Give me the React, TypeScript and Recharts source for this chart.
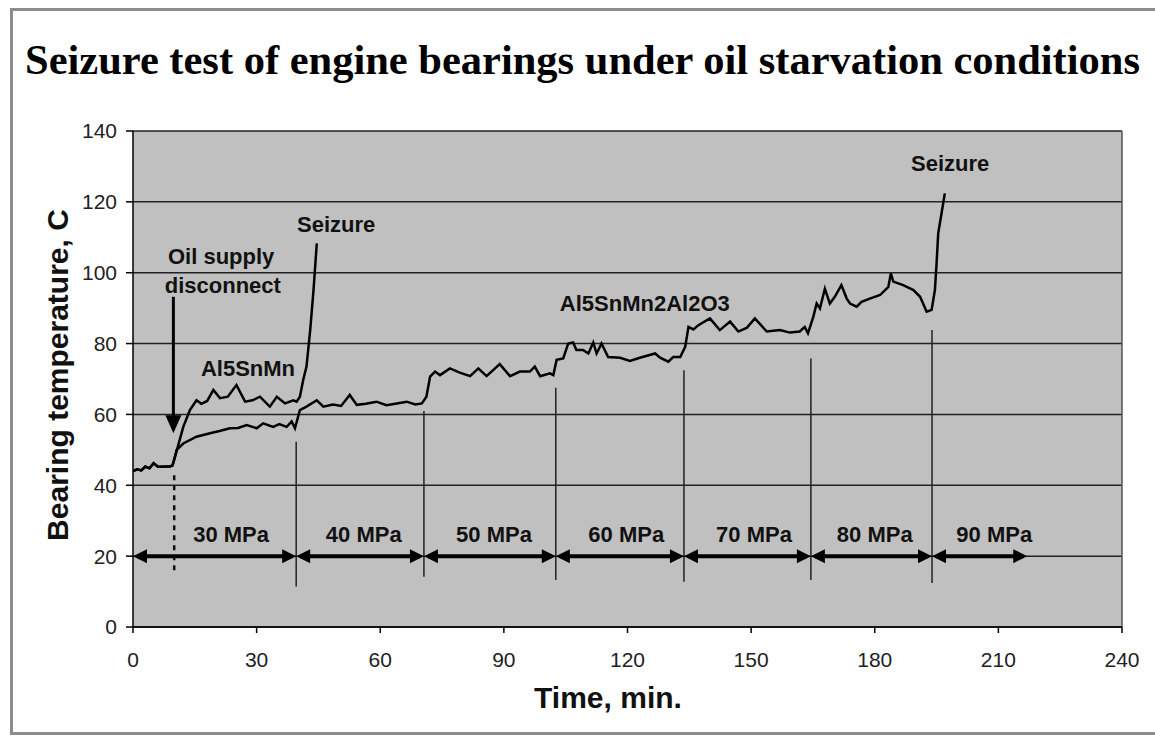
import React from "react";
import {
  LineChart,
  Line,
  XAxis,
  YAxis,
  CartesianGrid,
  ReferenceLine,
  ReferenceDot,
} from "recharts";

// Al5SnMn trace (min, deg C)
const snMnTime = [0, 1, 2, 3, 4, 5, 6, 7, 8, 9, 9.6, 10.2, 12.2, 13.8, 15.4, 16.6, 18, 19.5, 21.1, 23, 25.1, 27.2, 29, 30.8, 33.2, 34.9, 36.9, 38.9, 39.7, 40.5, 41.3, 42.1, 43, 43.8, 44.6];
const snMnTemp = [44, 44.5, 44.2, 45.3, 44.8, 46.2, 45.3, 45.2, 45.3, 45.3, 45.6, 48, 56.5, 61.2, 64, 63, 63.8, 66.9, 64.6, 65, 68.3, 63.6, 64, 65, 62.2, 65, 63.1, 64, 63.6, 65, 69.7, 73.5, 83.8, 95, 108.3];

// Al5SnMn2Al2O3 trace
const alOxTime = [0, 1, 2, 3, 4, 5, 6, 7, 8, 9, 9.6, 10.6, 12.2, 15.4, 18.7, 21, 23.5, 25.5, 27.6, 30, 31.6, 34, 35.5, 37.3, 38.5, 39.3, 40.5, 42.1, 44.6, 46.2, 48.5, 50.5, 52.6, 54.3, 56.5, 59.1, 61.5, 64, 66.4, 68.5, 70.1, 71.2, 72.1, 73.3, 74.5, 76.9, 79.3, 81.8, 83.8, 85.8, 89, 91.5, 93.9, 96.3, 97.5, 98.8, 101.2, 102, 102.8, 104.4, 105.6, 106.8, 107.6, 109.2, 110.5, 111.7, 112.5, 113.7, 115.3, 118.2, 120.6, 123, 126.7, 127.9, 129.9, 131.1, 132.8, 134, 134.8, 136, 137.2, 140, 142.4, 144.9, 146.9, 149, 150.9, 153.8, 157, 159.4, 161.8, 163, 163.8, 165.1, 165.9, 166.7, 167.9, 169.1, 170.3, 171.9, 173.2, 174, 175.6, 176.8, 178.8, 181.3, 183.3, 183.9, 184.5, 186.9, 189.4, 191, 192.6, 193.8, 194.6, 195, 195.4, 196.2, 197];
const alOxTemp = [44, 44.5, 44.2, 45.3, 44.8, 46.2, 45.3, 45.2, 45.3, 45.3, 45.6, 50, 51.8, 53.7, 54.7, 55.3, 56.1, 56.2, 57, 56.1, 57.5, 56.5, 57.3, 56.5, 58, 56.1, 61.2, 62.2, 64, 62.2, 62.8, 62.4, 65.5, 62.7, 63, 63.6, 62.6, 63.1, 63.6, 62.8, 63.1, 65, 70.7, 72.1, 71.1, 73, 71.8, 70.8, 73, 70.8, 74.2, 70.8, 72.1, 72.1, 73.5, 70.8, 71.6, 71.1, 75.4, 75.8, 80, 80.3, 78.2, 78.2, 77.2, 80.3, 77.2, 80, 76.2, 76, 75.1, 76, 77.2, 76, 74.9, 76.2, 76.2, 79.1, 84.7, 84, 85.2, 87.1, 83.8, 86.2, 83.4, 84.5, 87.1, 83.4, 83.8, 83.1, 83.4, 84.7, 82.9, 87.6, 91.3, 89.9, 95.5, 91.3, 93.2, 96.5, 92.7, 91.3, 90.4, 91.8, 92.7, 93.7, 96, 99.8, 97.5, 96.5, 95.1, 93.2, 89, 89.5, 95.1, 102.6, 111.1, 116.7, 122.4];

const snMnData = snMnTime.map((t, i) => ({ t, v: snMnTemp[i] }));
const alOxData = alOxTime.map((t, i) => ({ t, v: alOxTemp[i] }));

// load steps
const stepBounds = [0, 39.6, 70.6, 102.6, 133.7, 164.5, 193.9, 217];
const stepLabels = ["30 MPa", "40 MPa", "50 MPa", "60 MPa", "70 MPa", "80 MPa", "90 MPa"];
const stepLabelX = [23.8, 56, 87.6, 119.7, 150.7, 180, 209];
const dividerTop = [52.3, 61, 67.5, 72.5, 75.8, 83.8];
const dividerBottom = [11.4, 14.2, 13.3, 12.8, 13.3, 12.4];

const xTicks = [0, 30, 60, 90, 120, 150, 180, 210, 240];
const yTicks = [0, 20, 40, 60, 80, 100, 120, 140];

const SANS = "'Liberation Sans', Arial, sans-serif";

const textAt = (txt: string) => (p: any) => (
  <text
    x={p.cx}
    y={p.cy}
    textAnchor="middle"
    dominantBaseline="central"
    fontFamily={SANS}
    fontWeight="bold"
    fontSize={22}
    fill="#111"
  >
    {txt}
  </text>
);

const doubleArrow = (p: any) => {
  const { x1, y1, x2 } = p;
  const a = 14;
  const h = 7;
  return (
    <g>
      <line x1={x1 + 4} y1={y1} x2={x2 - 4} y2={y1} stroke="#000" strokeWidth={4} />
      <polygon points={`${x1},${y1} ${x1 + a},${y1 - h} ${x1 + a},${y1 + h}`} fill="#000" />
      <polygon points={`${x2},${y1} ${x2 - a},${y1 - h} ${x2 - a},${y1 + h}`} fill="#000" />
    </g>
  );
};

const downArrow = (p: any) => {
  const { x1, y1, y2 } = p;
  return (
    <g>
      <line x1={x1} y1={y1} x2={x1} y2={y2 - 10} stroke="#000" strokeWidth={3} />
      <polygon points={`${x1},${y2} ${x1 - 8},${y2 - 18} ${x1 + 8},${y2 - 18}`} fill="#000" />
    </g>
  );
};

export default function App() {
  return (
    <div
      style={{
        position: "absolute",
        left: 0,
        top: 0,
        width: 1155,
        height: 736,
        background: "#fff",
        overflow: "hidden",
      }}
    >
      <div
        style={{
          position: "absolute",
          left: 10,
          top: 8,
          width: 1160,
          height: 721,
          border: "3px solid #8c8c8c",
        }}
      />
      <div style={{ position: "absolute", left: 0, top: 0 }}>
        <LineChart
          width={1155}
          height={736}
          margin={{ top: 131, right: 33, bottom: 59, left: 73 }}
        >
          <CartesianGrid
            horizontal
            vertical={false}
            stroke="#222"
            strokeWidth={1.5}
            fill="#c0c0c0"
            fillOpacity={1}
          />
          <XAxis
            type="number"
            dataKey="t"
            domain={[0, 240]}
            ticks={xTicks}
            height={50}
            tickSize={6}
            tickMargin={19}
            stroke="#000"
            strokeWidth={1.5}
            tick={{ fontFamily: SANS, fontSize: 21, fill: "#222" }}
            allowDataOverflow
          />
          <YAxis
            type="number"
            domain={[0, 140]}
            ticks={yTicks}
            width={60}
            tickSize={7}
            tickMargin={9}
            stroke="#000"
            strokeWidth={1.5}
            tick={{ fontFamily: SANS, fontSize: 21, fill: "#222" }}
          />
          <ReferenceLine x={240} stroke="#555" strokeWidth={1.5} />
          {dividerTop.map((top, i) => (
            <ReferenceLine
              key={"d" + i}
              segment={[
                { x: stepBounds[i + 1], y: dividerBottom[i] },
                { x: stepBounds[i + 1], y: top },
              ]}
              stroke="#222"
              strokeWidth={1.5}
            />
          ))}
          <ReferenceLine
            segment={[
              { x: 10, y: 16 },
              { x: 10, y: 42.9 },
            ]}
            stroke="#111"
            strokeWidth={2.5}
            strokeDasharray="5 5"
          />
          {stepLabels.map((lab, i) => (
            <ReferenceLine
              key={"a" + i}
              segment={[
                { x: stepBounds[i], y: 20 },
                { x: stepBounds[i + 1], y: 20 },
              ]}
              shape={doubleArrow}
            />
          ))}
          {stepLabels.map((lab, i) => (
            <ReferenceDot key={"l" + i} x={stepLabelX[i]} y={26} shape={textAt(lab)} />
          ))}
          <ReferenceLine
            segment={[
              { x: 9.8, y: 93.2 },
              { x: 9.8, y: 54.7 },
            ]}
            shape={downArrow}
          />
          <Line
            data={snMnData}
            dataKey="v"
            type="linear"
            stroke="#000"
            strokeWidth={2.5}
            dot={false}
            isAnimationActive={false}
          />
          <Line
            data={alOxData}
            dataKey="v"
            type="linear"
            stroke="#000"
            strokeWidth={2.5}
            dot={false}
            isAnimationActive={false}
          />
          <ReferenceDot x={21.4} y={104.7} shape={textAt("Oil supply")} />
          <ReferenceDot x={21.8} y={96.5} shape={textAt("disconnect")} />
          <ReferenceDot x={49.3} y={113.5} shape={textAt("Seizure")} />
          <ReferenceDot x={27.9} y={73.1} shape={textAt("Al5SnMn")} />
          <ReferenceDot x={124.2} y={91.4} shape={textAt("Al5SnMn2Al2O3")} />
          <ReferenceDot x={198.3} y={130.9} shape={textAt("Seizure")} />
        </LineChart>
      </div>
      <svg
        width={1155}
        height={736}
        style={{ position: "absolute", left: 0, top: 0, pointerEvents: "none" }}
      >
        <text
          x={25}
          y={74}
          textLength={1115}
          lengthAdjust="spacingAndGlyphs"
          fontFamily="'Liberation Serif', 'Times New Roman', serif"
          fontWeight="bold"
          fontSize={42}
          fill="#000"
        >
          Seizure test of engine bearings under oil starvation conditions
        </text>
        <text
          x={608}
          y={708}
          textAnchor="middle"
          fontFamily={SANS}
          fontWeight="bold"
          fontSize={30}
          fill="#111"
        >
          Time, min.
        </text>
        <text
          transform="translate(68,375) rotate(-90)"
          textAnchor="middle"
          fontFamily={SANS}
          fontWeight="bold"
          fontSize={30}
          fill="#111"
        >
          Bearing temperature, C
        </text>
      </svg>
    </div>
  );
}
